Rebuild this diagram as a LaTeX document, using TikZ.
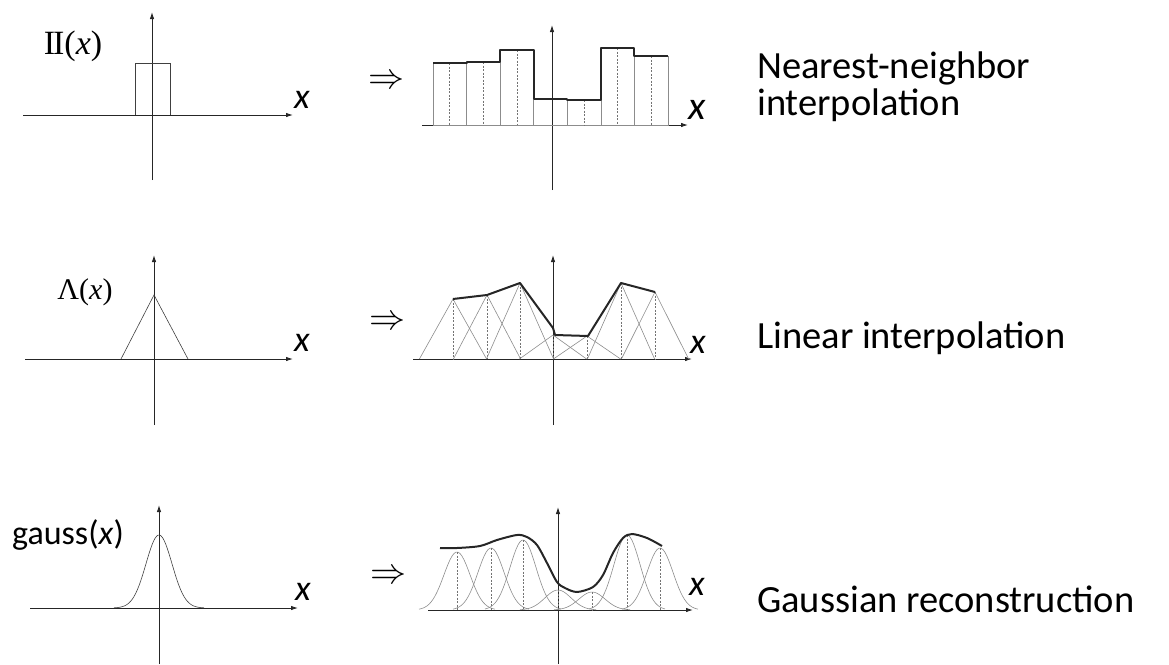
\documentclass[tikz,border=0pt]{standalone}
\usepackage{fontspec}
\setmainfont{Liberation Serif}
\newfontfamily\calib{Carlito}
\usetikzlibrary{arrows.meta}

\begin{document}
\begin{tikzpicture}[x=1pt,y=-1pt,
  ax/.style={draw=black!85,line width=0.9pt,-{Latex[length=7pt,width=4.5pt]}},
  fine/.style={draw=black!45,line width=0.6pt},
  env/.style={draw=black!85,line width=2pt,line join=round},
  samp/.style={draw=black!55,line width=0.7pt,dash pattern=on 2pt off 1.5pt},
  lbl/.style={inner sep=0pt,anchor=base west,font=\calib\fontsize{38.5}{39}\selectfont},
  fn/.style={inner sep=0pt},
  xl/.style={inner sep=0pt,font=\calib\itshape\fontsize{36}{36}\selectfont},
  impl/.style={inner sep=0pt,font=\normalsize}]
  \useasboundingbox (0,0) rectangle (1169,664);

  % box filter
  \draw[ax] (23,115) -- (293,115);
  \draw[ax] (152,180) -- (152,12);
  \draw[fine,draw=black!75] (135,115) -- (135,63) -- (170,63) -- (170,115);
  \node[fn,font=\fontsize{34}{34}\selectfont] (rect) at (73,46) {I\kern-0.06emI(\textit{x})};
  \node[xl] (x1) at (302,100) {x};
  \node[impl] (imp1) at (386,82) {\scalebox{3.6}{$\Rightarrow$}};
  \draw[ax] (422,125) -- (688,125);
  \draw[ax] (552,190) -- (552,25);
  \foreach \l/\h in {433/63,466.6/62,500.1/50,533.7/99,567.3/100,600.9/48,634.4/56}
    \draw[fine] (\l,125) rectangle ({\l+33.6},\h);
  \foreach \l/\h in {433/63,466.6/62,500.1/50,567.3/100,600.9/48,634.4/56}
    \draw[samp] ({\l+16.8},\h) -- ({\l+16.8},125);
  \draw[env] (433,63) -- (466.6,63) -- (466.6,62) -- (500.1,62) -- (500.1,50)
    -- (533.7,50) -- (533.7,99) -- (567.3,99) -- (567.3,100) -- (600.9,100)
    -- (600.9,48) -- (634.4,48) -- (634.4,56) -- (668,56);
  \node[xl,font=\calib\itshape\fontsize{40}{40}\selectfont] (x2) at (697,110) {x};
  \node[lbl] (nn1) at (757,78) {Nearest-neighbor};
  \node[lbl] (nn2) at (757,115) {interpolation};

  % tent filter
  \draw[ax] (25,359) -- (293,359);
  \draw[ax] (154,425) -- (154,255);
  \draw[fine,draw=black!75] (121,359) -- (154,295) -- (188,359);
  \node[fn,font=\fontsize{30}{30}\selectfont] (tri) at (85,292) {Λ(\textit{x})};
  \node[xl] (x3) at (302,343) {x};
  \node[impl] (imp2) at (387,323) {\scalebox{3.6}{$\Rightarrow$}};
  \draw[ax] (413,359) -- (692,359);
  \draw[ax] (553,425) -- (553,255);
  \foreach \c/\h in {453/299,487/295,520/283,553/335,587/336,621/283,655/292}{
    \draw[fine] ({\c-33.6},359) -- (\c,\h) -- ({\c+33.6},359);
    \draw[samp] (\c,\h) -- (\c,359);
  }
  \draw[env] (453,299) -- (487,295) -- (520,283) -- (553,328) -- (555,335)
    -- (588,336) -- (621,283) -- (655,292);
  \node[xl] (x4) at (698,345) {x};
  \node[lbl] (lin) at (757,348) {Linear interpolation};

  % gaussian filter
  \draw[ax] (30,608) -- (298,608);
  \draw[ax] (159,664) -- (159,505);
  \draw[fine,draw=black!75] plot[domain=-45:45,samples=60] ({159+\x},{608-73*exp(-\x*\x/338)});
  \node[fn,font=\calib\fontsize{34}{34}\selectfont] (gau) at (68,535) {gauss(\textit{x})};
  \node[xl] (x5) at (303,592) {x};
  \node[impl] (imp3) at (388,577) {\scalebox{3.6}{$\Rightarrow$}};
  \draw[ax] (428,610) -- (693,610);
  \draw[ax] (558,664) -- (558,507);
  \foreach \c/\h in {457/58,491/62,523/70,558/20,592/18,627/75,660/62}{
    \draw[fine] plot[domain=-38:38,samples=40] ({\c+\x},{610-\h*exp(-\x*\x/340)});
    \draw[samp] (\c,610-\h) -- (\c,610);
  }
  \draw[env] plot[smooth,tension=0.5] coordinates {(440,548) (457,548) (480,546)
    (497,540) (517,535) (527,537) (537,545) (547,563) (557,582) (565,588)
    (577,592) (593,587) (603,575) (613,553) (623,538) (632,534) (647,538) (662,546)};
  \node[xl] (x6) at (697,587) {x};
  \node[lbl] (gr) at (757,612) {Gaussian reconstruction};
\end{tikzpicture}
\end{document}
